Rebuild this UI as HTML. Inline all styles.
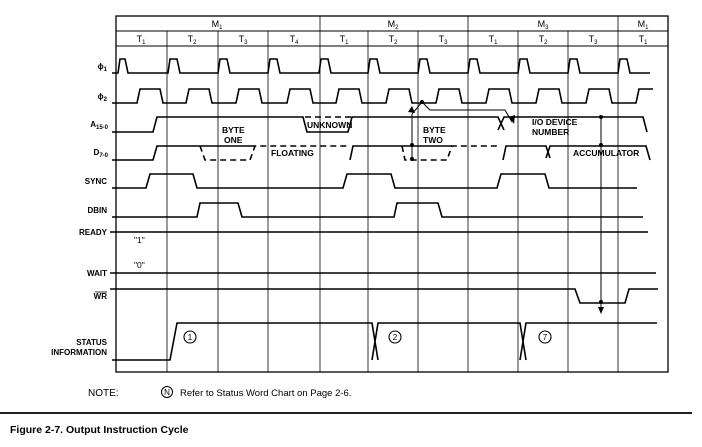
<!DOCTYPE html>
<html><head><meta charset="utf-8"><style>
html,body{margin:0;padding:0;background:#fff;}
svg{display:block;font-family:"Liberation Sans",Arial,sans-serif;}
.l{font-size:8px;font-weight:bold;text-anchor:end;}
.t{font-size:9px;text-anchor:middle;}
.b{font-size:8.5px;font-weight:bold;}
</style></head><body>
<svg width="702" height="447" viewBox="0 0 702 447" xmlns="http://www.w3.org/2000/svg">
<g stroke="#000" fill="none">
<rect x="116" y="16" width="552" height="356" stroke-width="1.3"/>
<line x1="116" y1="31" x2="668" y2="31"/>
<line x1="116" y1="46" x2="668" y2="46"/>
<g stroke-width="0.8">
<line x1="167" y1="31" x2="167" y2="372"/><line x1="218" y1="31" x2="218" y2="372"/>
<line x1="268" y1="31" x2="268" y2="372"/><line x1="320" y1="16" x2="320" y2="372"/>
<line x1="368" y1="31" x2="368" y2="372"/><line x1="418" y1="31" x2="418" y2="372"/>
<line x1="468" y1="16" x2="468" y2="372"/><line x1="518" y1="31" x2="518" y2="372"/>
<line x1="568" y1="31" x2="568" y2="372"/><line x1="618" y1="16" x2="618" y2="372"/>
</g>
<g stroke-width="1.6">
<path d="M112 73 H118 L120 59 H125 L128 73 H168 L170 59 H177 L180 73 H218 L220 59 H227 L230 73 H268 L270 59 H277 L280 73 H319 L321 59 H328 L331 73 H368 L370 59 H377 L380 73 H418 L420 59 H427 L430 73 H468 L470 59 H477 L480 73 H518 L520 59 H527 L530 73 H568 L570 59 H577 L580 73 H618 L620 59 H627 L630 73 H650"/>
<path d="M112 103 H137 L140 89 H160 L163 103 H186 L189 89 H209 L212 103 H236 L239 89 H259 L262 103 H287 L290 89 H310 L313 103 H336 L339 89 H359 L362 103 H386 L389 89 H409 L412 103 H436 L439 89 H459 L462 103 H486 L489 89 H509 L512 103 H536 L539 89 H559 L562 103 H586 L589 89 H609 L612 103 H636 L639 89 H653"/>
<path d="M112 132 H153 L157 117 H303 L307 132 H348 L352 117 H498 L504 130 M498 130 L504 117 H643 L647 132"/>
<path d="M305 117 H352" stroke-dasharray="6,4"/>
<path d="M112 160 H153 L157 146 H255 M350 160 L353 146 H402 M402 146 H452 M503 160 L506 146 H546 L550 158 M546 158 L550 146 H646 L650 160"/>
<path d="M200 146 L205 160 H250 L255 146 H350 M402 146 L405 160 H447 L452 146 H500" stroke-dasharray="6,4"/>
<path d="M112 188 H146 L150 174 H193 L197 188 H343 L347 174 H391 L395 188 H497 L501 174 H545 L549 188 H637"/>
<path d="M112 217 H197 L200 203 H238 L242 217 H394 L397 203 H438 L442 217 H643"/>
<path d="M110 232 H648"/>
<path d="M110 273 H656"/>
<path d="M110 289 H575 L580 303 H625 L629 289 H658"/>
<path d="M112 360 H170 L177 323 H372 L378 360 M372 360 L378 323 H520 L526 360 M520 360 L526 323 H657"/>
</g>
<g stroke-width="1">
<path d="M422 102 L412 114 V160 M422 102 L430 110 H505 L512 122"/>
<path d="M601 116 V310"/>
</g>
<circle cx="190" cy="337" r="6" stroke-width="1.1"/>
<circle cx="395" cy="337" r="6" stroke-width="1.1"/>
<circle cx="545" cy="337" r="6" stroke-width="1.1"/>
<circle cx="167" cy="392" r="5.5" stroke-width="1"/>
<line x1="0" y1="413" x2="692" y2="413" stroke-width="1.8"/>
</g>
<g fill="#000">
<circle cx="422" cy="102" r="2"/><circle cx="412" cy="145" r="2"/><circle cx="412" cy="159" r="2"/>
<circle cx="601" cy="117" r="2"/><circle cx="601" cy="145" r="2"/><circle cx="601" cy="302" r="2"/>
<path d="M408 112 L412 106 L415 113 Z"/>
<path d="M509 117 L514 124 L515 115 Z"/>
<path d="M598 307 L601 314 L604 307 Z"/>
</g>
<g class="t">
<text x="217" y="27">M<tspan font-size="6" dy="2">1</tspan></text>
<text x="393" y="27">M<tspan font-size="6" dy="2">2</tspan></text>
<text x="543" y="27">M<tspan font-size="6" dy="2">3</tspan></text>
<text x="643" y="27">M<tspan font-size="6" dy="2">1</tspan></text>
<text x="141" y="42">T<tspan font-size="6" dy="2">1</tspan></text>
<text x="192" y="42">T<tspan font-size="6" dy="2">2</tspan></text>
<text x="243" y="42">T<tspan font-size="6" dy="2">3</tspan></text>
<text x="294" y="42">T<tspan font-size="6" dy="2">4</tspan></text>
<text x="344" y="42">T<tspan font-size="6" dy="2">1</tspan></text>
<text x="393" y="42">T<tspan font-size="6" dy="2">2</tspan></text>
<text x="443" y="42">T<tspan font-size="6" dy="2">3</tspan></text>
<text x="493" y="42">T<tspan font-size="6" dy="2">1</tspan></text>
<text x="543" y="42">T<tspan font-size="6" dy="2">2</tspan></text>
<text x="593" y="42">T<tspan font-size="6" dy="2">3</tspan></text>
<text x="643" y="42">T<tspan font-size="6" dy="2">1</tspan></text>
<text x="190" y="340" font-size="8">1</text>
<text x="395" y="340" font-size="8">2</text>
<text x="545" y="340" font-size="8">7</text>
<text x="167" y="395" font-size="8">N</text>
</g>
<g class="l">
<text x="107" y="69">ϕ<tspan font-size="6" dy="2">1</tspan></text>
<text x="107" y="99">ϕ<tspan font-size="6" dy="2">2</tspan></text>
<text x="108" y="127">A<tspan font-size="6" dy="2">15-0</tspan></text>
<text x="108" y="155">D<tspan font-size="6" dy="2">7-0</tspan></text>
<text x="107" y="184">SYNC</text>
<text x="107" y="213">DBIN</text>
<text x="107" y="235">READY</text>
<text x="107" y="276">WAIT</text>
<text x="107" y="299">WR</text>
<line x1="95" y1="292" x2="107" y2="292" stroke="#000" stroke-width="0.8"/>
<text x="107" y="345">STATUS</text>
<text x="107" y="355">INFORMATION</text>
</g>
<g class="b">
<text x="222" y="133">BYTE</text><text x="224" y="143">ONE</text>
<text x="307" y="128">UNKNOWN</text>
<text x="271" y="156">FLOATING</text>
<text x="423" y="133">BYTE</text><text x="423" y="143">TWO</text>
<text x="532" y="125">I/O DEVICE</text><text x="532" y="135">NUMBER</text>
<text x="573" y="156">ACCUMULATOR</text>
<text x="134" y="243" font-weight="normal">"1"</text>
<text x="134" y="268" font-weight="normal">"0"</text>
</g>
<text x="88" y="396" font-size="10">NOTE:</text>
<text x="180" y="396" font-size="9.5">Refer to Status Word Chart on Page 2-6.</text>
<text x="10" y="433" font-size="10.5" font-weight="bold">Figure 2-7. Output Instruction Cycle</text>
</svg>
</body></html>
